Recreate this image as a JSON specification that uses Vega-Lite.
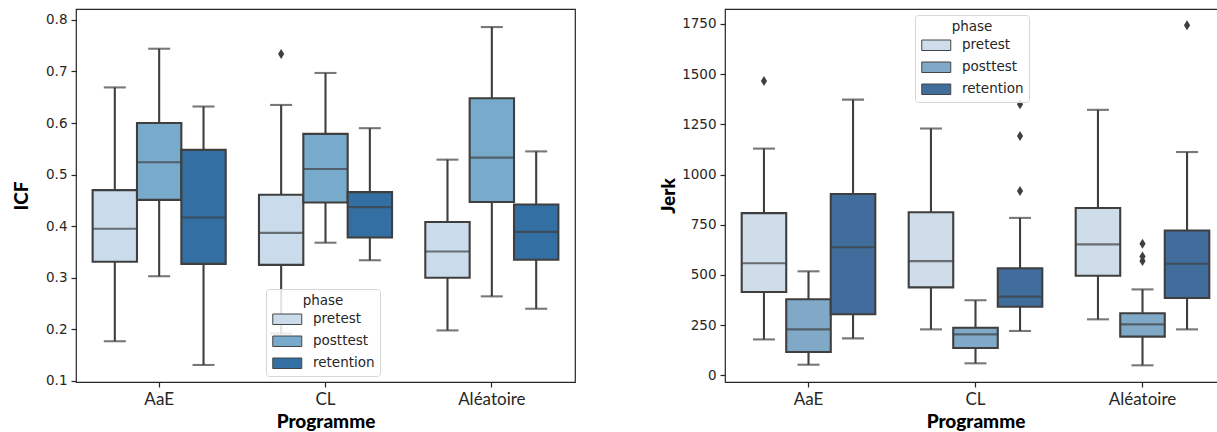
{
  "$schema": "https://vega.github.io/schema/vega-lite/v6.json",
  "padding": {"left": 11, "top": 8, "right": 0, "bottom": 0},
  "background": "white",
  "datasets": {
    "icf": [
      {"Programme": "AaE", "phase": "pretest", "lower": 0.177, "q1": 0.331, "median": 0.395, "q3": 0.470, "upper": 0.669},
      {"Programme": "AaE", "phase": "posttest", "lower": 0.303, "q1": 0.451, "median": 0.524, "q3": 0.600, "upper": 0.744},
      {"Programme": "AaE", "phase": "retention", "lower": 0.131, "q1": 0.327, "median": 0.417, "q3": 0.548, "upper": 0.632},
      {"Programme": "CL", "phase": "pretest", "lower": 0.192, "q1": 0.325, "median": 0.387, "q3": 0.461, "upper": 0.635},
      {"Programme": "CL", "phase": "posttest", "lower": 0.368, "q1": 0.446, "median": 0.511, "q3": 0.579, "upper": 0.697},
      {"Programme": "CL", "phase": "retention", "lower": 0.334, "q1": 0.378, "median": 0.437, "q3": 0.466, "upper": 0.590},
      {"Programme": "Aléatoire", "phase": "pretest", "lower": 0.198, "q1": 0.300, "median": 0.351, "q3": 0.408, "upper": 0.529},
      {"Programme": "Aléatoire", "phase": "posttest", "lower": 0.264, "q1": 0.447, "median": 0.533, "q3": 0.648, "upper": 0.786},
      {"Programme": "Aléatoire", "phase": "retention", "lower": 0.240, "q1": 0.335, "median": 0.389, "q3": 0.442, "upper": 0.545}
    ],
    "icf_out": [
      {"Programme": "CL", "phase": "pretest", "value": 0.734}
    ],
    "jerk": [
      {"Programme": "AaE", "phase": "pretest", "lower": 179, "q1": 415, "median": 558, "q3": 808, "upper": 1129},
      {"Programme": "AaE", "phase": "posttest", "lower": 53, "q1": 116, "median": 229, "q3": 379, "upper": 518},
      {"Programme": "AaE", "phase": "retention", "lower": 184, "q1": 304, "median": 638, "q3": 903, "upper": 1373},
      {"Programme": "CL", "phase": "pretest", "lower": 229, "q1": 438, "median": 569, "q3": 812, "upper": 1229},
      {"Programme": "CL", "phase": "posttest", "lower": 60, "q1": 136, "median": 204, "q3": 237, "upper": 374},
      {"Programme": "CL", "phase": "retention", "lower": 221, "q1": 342, "median": 392, "q3": 533, "upper": 784},
      {"Programme": "Aléatoire", "phase": "pretest", "lower": 279, "q1": 496, "median": 652, "q3": 833, "upper": 1322},
      {"Programme": "Aléatoire", "phase": "posttest", "lower": 50, "q1": 193, "median": 254, "q3": 309, "upper": 428},
      {"Programme": "Aléatoire", "phase": "retention", "lower": 229, "q1": 385, "median": 556, "q3": 721, "upper": 1112}
    ],
    "jerk_out": [
      {"Programme": "AaE", "phase": "pretest", "value": 1466},
      {"Programme": "CL", "phase": "retention", "value": 1350},
      {"Programme": "CL", "phase": "retention", "value": 1192},
      {"Programme": "CL", "phase": "retention", "value": 918},
      {"Programme": "Aléatoire", "phase": "posttest", "value": 655},
      {"Programme": "Aléatoire", "phase": "posttest", "value": 592},
      {"Programme": "Aléatoire", "phase": "posttest", "value": 570},
      {"Programme": "Aléatoire", "phase": "retention", "value": 1743}
    ]
  },
  "hconcat": [
    {
      "width": 499,
      "height": 373,
      "encoding": {
        "x": {"field": "Programme", "type": "nominal", "sort": ["AaE", "CL", "Aléatoire"], "scale": {"paddingInner": 0, "paddingOuter": 0}, "title": "Programme"},
        "xOffset": {"field": "phase", "type": "nominal", "sort": ["pretest", "posttest", "retention"], "scale": {"paddingInner": 0, "paddingOuter": 0.375}}
      },
      "layer": [
        {
          "data": {"name": "icf"},
          "mark": {"type": "rule", "color": "#3f3f3f", "strokeWidth": 2.1},
          "encoding": {
            "y": {"field": "lower", "type": "quantitative", "scale": {"domain": [0.098, 0.821], "nice": false, "zero": false}, "axis": {"values": [0.1, 0.2, 0.3, 0.4, 0.5, 0.6, 0.7, 0.8], "format": ".1f", "titlePadding": 14}, "title": "ICF"},
            "y2": {"field": "upper"}
          }
        },
        {
          "data": {"name": "icf"},
          "mark": {"type": "tick", "color": "#3f3f3f", "thickness": 2.1, "size": 22},
          "encoding": {"y": {"field": "lower", "type": "quantitative"}}
        },
        {
          "data": {"name": "icf"},
          "mark": {"type": "tick", "color": "#3f3f3f", "thickness": 2.1, "size": 22},
          "encoding": {"y": {"field": "upper", "type": "quantitative"}}
        },
        {
          "data": {"name": "icf"},
          "mark": {"type": "bar", "stroke": "#3f3f3f", "strokeWidth": 2.1, "opacity": 1},
          "encoding": {
            "y": {"field": "q1", "type": "quantitative"},
            "y2": {"field": "q3"},
            "fill": {
              "field": "phase", "type": "nominal",
              "scale": {"domain": ["pretest", "posttest", "retention"], "range": ["#cadbeb", "#78abcb", "#346fa4"]},
              "legend": {"orient": "none", "legendX": 190, "legendY": 280, "title": "phase"}
            }
          }
        },
        {
          "data": {"name": "icf"},
          "mark": {"type": "tick", "color": "#3f3f3f", "thickness": 2.1, "size": 44},
          "encoding": {"y": {"field": "median", "type": "quantitative"}}
        },
        {
          "data": {"name": "icf_out"},
          "mark": {"type": "point", "shape": "M0,-1L0.62,0L0,1L-0.62,0Z", "filled": true, "color": "#3f3f3f", "size": 100, "opacity": 1},
          "encoding": {"y": {"field": "value", "type": "quantitative"}}
        }
      ]
    },
    {
      "width": 497,
      "height": 373,
      "encoding": {
        "x": {"field": "Programme", "type": "nominal", "sort": ["AaE", "CL", "Aléatoire"], "scale": {"paddingInner": 0, "paddingOuter": 0, "range": [0, 501]}, "title": "Programme"},
        "xOffset": {"field": "phase", "type": "nominal", "sort": ["pretest", "posttest", "retention"], "scale": {"paddingInner": 0, "paddingOuter": 0.375}}
      },
      "layer": [
        {
          "data": {"name": "jerk"},
          "mark": {"type": "rule", "color": "#3f3f3f", "strokeWidth": 2.1},
          "encoding": {
            "y": {"field": "lower", "type": "quantitative", "scale": {"domain": [-33, 1824], "nice": false, "zero": false}, "axis": {"values": [0, 250, 500, 750, 1000, 1250, 1500, 1750], "format": "d", "titlePadding": 3}, "title": "Jerk"},
            "y2": {"field": "upper"}
          }
        },
        {
          "data": {"name": "jerk"},
          "mark": {"type": "tick", "color": "#3f3f3f", "thickness": 2.1, "size": 22},
          "encoding": {"y": {"field": "lower", "type": "quantitative"}}
        },
        {
          "data": {"name": "jerk"},
          "mark": {"type": "tick", "color": "#3f3f3f", "thickness": 2.1, "size": 22},
          "encoding": {"y": {"field": "upper", "type": "quantitative"}}
        },
        {
          "data": {"name": "jerk"},
          "mark": {"type": "bar", "stroke": "#3f3f3f", "strokeWidth": 2.1, "opacity": 1},
          "encoding": {
            "y": {"field": "q1", "type": "quantitative"},
            "y2": {"field": "q3"},
            "fill": {
              "field": "phase", "type": "nominal",
              "scale": {"domain": ["pretest", "posttest", "retention"], "range": ["#cfdce9", "#80a9c8", "#406d9c"]},
              "legend": {"orient": "none", "legendX": 190, "legendY": 6, "title": "phase"}
            }
          }
        },
        {
          "data": {"name": "jerk"},
          "mark": {"type": "tick", "color": "#3f3f3f", "thickness": 2.1, "size": 44},
          "encoding": {"y": {"field": "median", "type": "quantitative"}}
        },
        {
          "data": {"name": "jerk_out"},
          "mark": {"type": "point", "shape": "M0,-1L0.62,0L0,1L-0.62,0Z", "filled": true, "color": "#3f3f3f", "size": 100, "opacity": 1},
          "encoding": {"y": {"field": "value", "type": "quantitative"}}
        }
      ]
    }
  ],
  "spacing": 83,
  "resolve": {"scale": {"fill": "independent", "y": "independent", "x": "independent", "xOffset": "independent"}, "legend": {"fill": "independent"}},
  "config": {
    "view": {"stroke": "#262626", "strokeWidth": 1.2},
    "axis": {
      "grid": false,
      "domain": false,
      "tickColor": "#262626",
      "tickSize": 5,
      "tickWidth": 1.2,
      "labelPadding": 4,
      "labelColor": "#262626",
      "titleColor": "#000000",
      "titleFont": "Lato",
      "titleFontWeight": 900,
      "titleFontSize": 19
    },
    "axisY": {"labelFont": "DejaVu Sans", "labelFontSize": 13.5},
    "axisX": {"labelFont": "Lato", "labelFontSize": 17, "labelAngle": 0, "titlePadding": 5},
    "legend": {
      "titleFont": "DejaVu Sans",
      "titleFontWeight": "normal",
      "titleFontSize": 13.5,
      "titleColor": "#262626",
      "titleAnchor": "middle",
      "titlePadding": 5,
      "labelFont": "DejaVu Sans",
      "labelFontSize": 13.5,
      "labelColor": "#262626",
      "symbolType": "M-2.9,-1.05H2.9V1.05H-2.9Z",
      "symbolSize": 100,
      "symbolOffset": 9.5,
      "labelOffset": 19,
      "rowPadding": 7,
      "padding": 5,
      "symbolStrokeColor": "#444444",
      "symbolStrokeWidth": 1,
      "symbolOpacity": 1,
      "strokeColor": "#d6d6d6",
      "fillColor": "rgba(255,255,255,0.85)",
      "cornerRadius": 3
    }
  }
}
